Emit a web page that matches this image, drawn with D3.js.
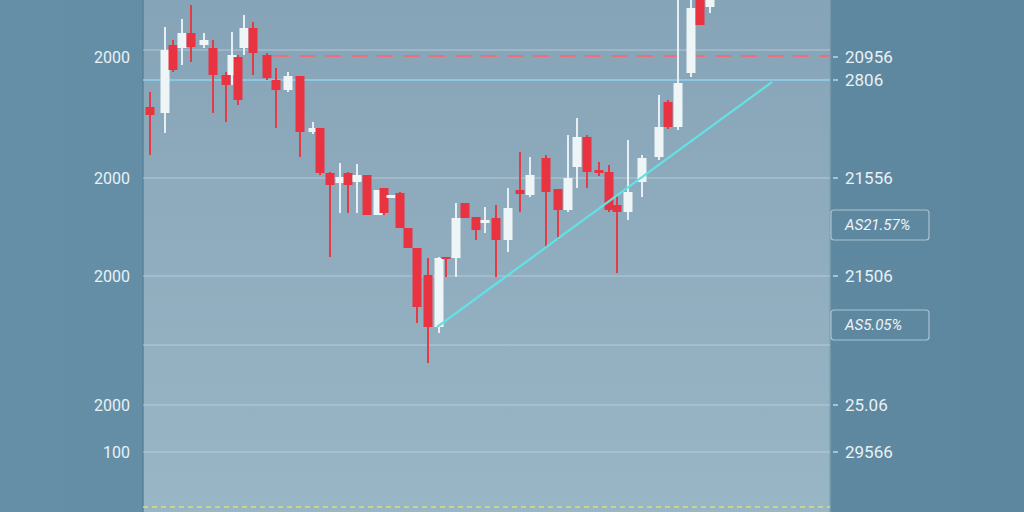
<!DOCTYPE html>
<html><head><meta charset="utf-8">
<script src="https://cdn.jsdelivr.net/npm/d3@7"></script>
<style>html,body{margin:0;padding:0;background:#618ba3;overflow:hidden}svg{display:block}</style>
</head><body>
<svg id="c" width="1024" height="512"></svg>
<script>
// ---- data (price points, session time) ----
const times  = [7,22,30,39,48,61,70,83,89,95,101,110,124,133,145,157,170,177,187,197,205,214,224,235,241,248,257,265,274,285,296,303,313,322,333,342,353,365,377,387,403,415,425,434,444,456,466,474,485,499,516,525,535,548,557,567];
const opens  = [405,399,467,464,479,467,464,437,437,455,464,484,457,432,422,436,380,384,339,329,339,330,337,297,324,314,319,284,264,237,185,255,254,309,295,289,294,272,322,317,354,323,302,345,375,342,340,307,300,330,355,410,385,439,512,505];
const highs  = [420,485,472,493,507,479,472,440,480,457,497,490,459,444,440,436,390,384,340,349,340,348,337,322,324,317,320,284,264,254,255,255,309,309,295,305,307,324,360,355,357,323,377,394,377,350,347,316,372,357,417,412,520,520,520,520];
const lows   = [357,379,440,447,450,464,399,390,427,407,457,437,432,384,420,355,378,337,255,299,299,299,297,297,297,314,284,264,189,149,179,235,235,294,272,279,235,260,300,315,264,272,300,324,324,336,300,239,292,315,352,383,382,435,487,499];
const closes = [397,462,442,479,465,472,437,427,457,412,484,459,434,422,436,380,384,339,327,335,327,337,297,322,299,317,284,264,205,185,254,254,294,294,282,292,272,304,318,337,320,302,334,375,340,339,302,300,320,354,385,385,429,504,487,512];

const gridPrices   = [462, 334, 236, 167, 107, 60];
const resistance   = 432;   // solid light-blue level
const dashedLevel  = 456;   // red dashed level
const floorLevel   = 5;     // yellow dashed level at bottom
const trendT = [294, 629];
const trendP = [185, 430];

const leftTickPrices  = [455, 334, 236, 107, 60];
const leftTickLabels  = ["2000","2000","2000","2000","100"];
const rightTickPrices = [455, 432, 334, 236, 107, 60];
const rightTickLabels = ["20956","2806","21556","21506","25.06","29566"];
const boxPrices = [287, 187];
const boxLabels = ["AS21.57%","AS5.05%"];

// ---- layout ----
const W = 1024, H = 512;
const L = 143, R = 830;
const svg = d3.select("#c");
const x = d3.scaleLinear().domain([0, 687]).range([L, R]);
const y = d3.scaleLinear().domain([0, 512]).range([H, 0]);

const defs = svg.append("defs");
const g1 = defs.append("linearGradient").attr("id","pg").attr("x1",0).attr("y1",0).attr("x2",0).attr("y2",1);
g1.append("stop").attr("offset","0%").attr("stop-color","#86a4b7");
g1.append("stop").attr("offset","100%").attr("stop-color","#99b6c6");
const g2 = defs.append("linearGradient").attr("id","bg").attr("x1",0).attr("y1",0).attr("x2",1).attr("y2",0);
g2.append("stop").attr("offset","0%").attr("stop-color","#658fa7");
g2.append("stop").attr("offset","100%").attr("stop-color","#5c879f");
defs.append("clipPath").attr("id","clip").append("rect").attr("x",L).attr("y",0).attr("width",R-L).attr("height",H);

svg.append("rect").attr("width",W).attr("height",H).attr("fill","url(#bg)");
svg.append("rect").attr("x",L).attr("y",0).attr("width",R-L).attr("height",H).attr("fill","url(#pg)");
svg.append("line").attr("x1",L).attr("x2",L).attr("y1",0).attr("y2",H).attr("stroke","#58829b").attr("stroke-width",1.5);
svg.append("line").attr("x1",R).attr("x2",R).attr("y1",0).attr("y2",H).attr("stroke","#7fa0b3").attr("stroke-width",1.5);

const plot = svg.append("g").attr("clip-path","url(#clip)");

// grid
plot.selectAll(".grid").data(gridPrices).join("line")
  .attr("x1",L).attr("x2",R).attr("y1",d=>y(d)).attr("y2",d=>y(d))
  .attr("stroke","#c2d6e0").attr("stroke-opacity",0.75).attr("stroke-width",1.2);

plot.append("line").attr("x1",L).attr("x2",R).attr("y1",y(resistance)).attr("y2",y(resistance))
  .attr("stroke","#8fd2ef").attr("stroke-width",1.6);
plot.append("line").attr("x1",x(130)).attr("x2",R).attr("y1",y(dashedLevel)).attr("y2",y(dashedLevel))
  .attr("stroke","#ec6f7c").attr("stroke-width",2).attr("stroke-dasharray","16,10");
plot.append("line").attr("x1",L).attr("x2",R).attr("y1",y(floorLevel)).attr("y2",y(floorLevel))
  .attr("stroke","#d8e07a").attr("stroke-width",1.5).attr("stroke-dasharray","5,4");

// candles
const data = times.map((t,i)=>({t, o:opens[i], h:highs[i], l:lows[i], c:closes[i]}));
const up = d => d.c >= d.o;
const cg = plot.selectAll(".cd").data(data).join("g");
cg.append("line")
  .attr("x1",d=>x(d.t)).attr("x2",d=>x(d.t))
  .attr("y1",d=>y(d.h)).attr("y2",d=>y(d.l))
  .attr("stroke",d=>up(d)?"#e6f0f4":"#e63a44").attr("stroke-width",2);
cg.append("rect")
  .attr("x",d=>x(d.t)-4.5).attr("width",9)
  .attr("y",d=>y(Math.max(d.o,d.c)))
  .attr("height",d=>Math.max(2, Math.abs(y(d.o)-y(d.c))))
  .attr("fill",d=>up(d)?"#eef5f7":"#ea3340");

// trend line
plot.append("line")
  .attr("x1",x(trendT[0])).attr("y1",y(trendP[0]))
  .attr("x2",x(trendT[1])).attr("y2",y(trendP[1]))
  .attr("stroke","#62e2e4").attr("stroke-width",2.2);

// left labels
svg.selectAll(".ll").data(leftTickPrices).join("text")
  .attr("x",130).attr("y",d=>y(d)).attr("dy","0.35em").attr("text-anchor","end")
  .attr("font-family","Roboto, 'DejaVu Sans', sans-serif").attr("font-size",16)
  .attr("fill","#e9f1f5").text((d,i)=>leftTickLabels[i]);

// right ticks and labels
svg.selectAll(".rt").data(rightTickPrices).join("line")
  .attr("x1",R+3).attr("x2",R+8).attr("y1",d=>y(d)).attr("y2",d=>y(d))
  .attr("stroke","#dbe8ee").attr("stroke-width",1.2);
svg.selectAll(".rl").data(rightTickPrices).join("text")
  .attr("x",845).attr("y",d=>y(d)).attr("dy","0.35em")
  .attr("font-family","Roboto, 'DejaVu Sans', sans-serif").attr("font-size",17)
  .attr("fill","#e9f1f5").text((d,i)=>rightTickLabels[i]);

const bx = svg.selectAll(".bx").data(boxPrices).join("g");
bx.append("rect").attr("x",R+1).attr("y",d=>y(d)-15).attr("width",98).attr("height",30).attr("rx",3)
  .attr("fill","#5e88a0").attr("stroke","#a9c4d2").attr("stroke-width",1.2);
bx.append("text").attr("x",845).attr("y",d=>y(d)).attr("dy","0.35em")
  .attr("font-family","Roboto, 'DejaVu Sans', sans-serif").attr("font-size",15).attr("font-style","italic")
  .attr("fill","#eef4f7").text((d,i)=>boxLabels[i]);
</script>
</body></html>
